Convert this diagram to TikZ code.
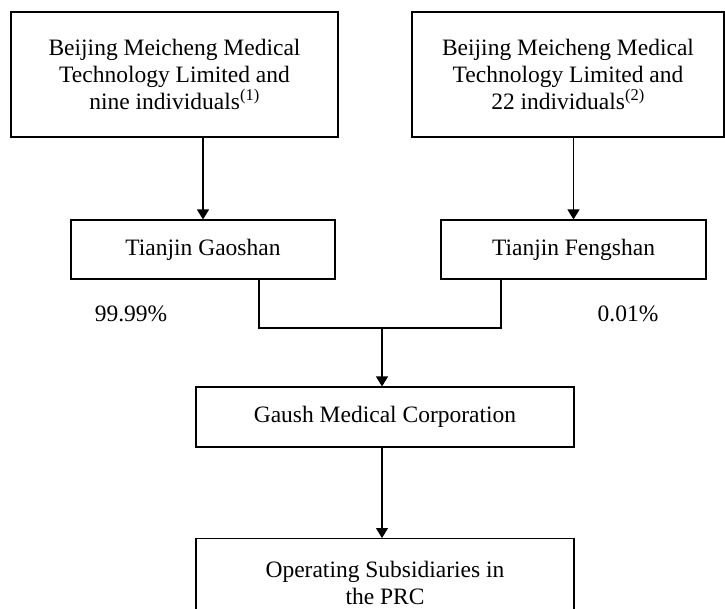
\documentclass[tikz,border=0pt]{standalone}
\usepackage{fontspec}
\setmainfont{Liberation Serif}
\usetikzlibrary{arrows.meta}
\tikzset{
  entity/.style={draw,line width=1.1pt,align=center,inner sep=0pt,
    font=\fontsize{23.5}{27}\selectfont},
  own/.style={line width=1.1pt},
  ownarrow/.style={own,-{Triangle[width=12pt,length=10pt]}},
  pct/.style={font=\fontsize{23.5}{27}\selectfont}
}
\begin{document}
\begin{tikzpicture}[x=1pt,y=-1pt]
\useasboundingbox (0,0) rectangle (725,608);
%=======shareholders=============
\node[entity,minimum width=327pt,minimum height=125pt] (bmA) at (174.5,74.5)
  {Beijing Meicheng Medical\\Technology Limited and\\nine individuals\textsuperscript{(1)}};
\node[entity,minimum width=312pt,minimum height=125pt] (bmB) at (568,74.5)
  {Beijing Meicheng Medical\\Technology Limited and\\22 individuals\textsuperscript{(2)}};
%=======partnerships=============
\node[entity,minimum width=264pt,minimum height=59pt] (tjG) at (203,249.5) {Tianjin Gaoshan};
\node[entity,minimum width=265pt,minimum height=59pt] (tjF) at (573.5,249.5) {Tianjin Fengshan};
\draw[ownarrow] (tjG.north |- bmA.south)--(tjG.north);
\draw[ownarrow] (tjF.north |- bmB.south)--(tjF.north);
\node[pct] (pG) at (131,314) {99.99\%};
\node[pct] (pF) at (628,314) {0.01\%};
%=======company=============
\node[entity,minimum width=378pt,minimum height=60pt] (gaush) at (385,417) {Gaush Medical Corporation};
\coordinate (jL) at (259,328);
\coordinate (jR) at (501,328);
\coordinate (jM) at (382,328);
\draw[own] (tjG.south -| jL)--(jL)--(jR)--(tjF.south -| jR);
\draw[ownarrow] (jM)--(gaush.north -| jM);
%=======subsidiaries=============
\node[entity,minimum width=378pt,minimum height=88pt,anchor=north] (ops) at (385,538)
  {Operating Subsidiaries in\\the PRC};
\draw[ownarrow] (gaush.south -| jM)--(ops.north -| jM);
\end{tikzpicture}
\end{document}
